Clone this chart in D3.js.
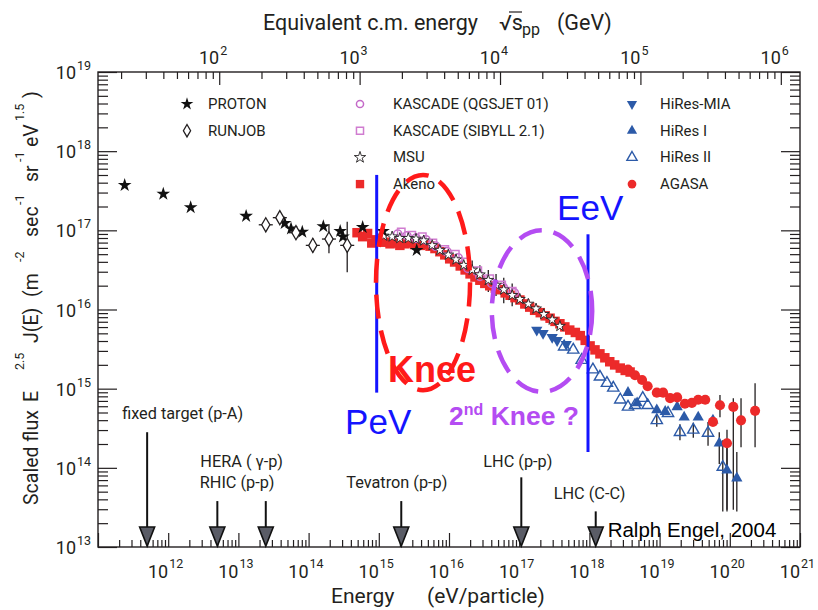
<!DOCTYPE html>
<meta charset="utf-8">
<style>
    body { margin: 0; background: #fff; }
    text { font-family: Roboto, "Open Sans", sans-serif; fill: #231f20; }
    .ax line { stroke: #231f20; stroke-width: 1.2; }
    .ebar { stroke: #231f20; stroke-width: 1.3; fill: none; }
    .note { font-family: "Liberation Sans", Arial, sans-serif; }
</style>
<body>
<div id="chart"></div>
<script src="https://d3js.org/d3.v7.min.js"></script>
<script>

// all values are log10(E / eV), log10(E^2.5 J(E)) ; optional [lo, hi] error bar in log10 flux
var proton = [[11.38,17.57],[11.93,17.46],[12.32,17.29],[13.11,17.18],[13.66,17.09],[13.75,17.02],
    [13.91,16.98],[14.21,17.05],[14.45,16.99],[14.49,16.92],[14.77,17.04],[15.06,16.99],[15.54,16.75]];

var runjob = [[13.39,17.07],[13.59,17.16],[13.82,16.97],[14.06,16.81,16.72,16.90],
    [14.29,16.89,16.71,17.07],[14.55,16.81,16.47,17.11]];

var akeno = [[14.69,16.97],[14.77,16.92],[14.84,16.96],[14.90,16.84],[14.96,16.88],[15.02,16.87],
    [15.09,16.85],[15.16,16.83],[15.23,16.84],[15.30,16.81],[15.37,16.83],[15.44,16.84],[15.51,16.82],
    [15.59,16.81],[15.66,16.82],[15.73,16.80],[15.80,16.77],[15.87,16.73],[15.94,16.69],[16.01,16.64],
    [16.08,16.60],[16.16,16.55],[16.23,16.50],[16.30,16.45],[16.37,16.41],[16.44,16.37],[16.51,16.33],
    [16.58,16.30],[16.66,16.27],[16.73,16.25],[16.80,16.21],[16.87,16.18],[16.94,16.15],[17.01,16.12],
    [17.08,16.07],[17.15,16.03],[17.22,15.99],[17.30,15.96],[17.37,15.92],[17.44,15.89],[17.51,15.85],
    [17.58,15.82],[17.65,15.78],[17.72,15.74],[17.80,15.71],[17.87,15.67],[17.94,15.61],[18.01,15.54],
    [18.08,15.49],[18.15,15.44],[18.22,15.39],[18.29,15.34],[18.36,15.30],[18.44,15.26],[18.51,15.23],
    [18.58,15.21]];

var kascadeQ = [[15.27,16.95],[15.40,16.93],[15.53,16.90],[15.67,16.88],[15.81,16.80],[15.97,16.73],
    [16.13,16.65],[16.27,16.52],[16.44,16.42],[16.61,16.33],[16.77,16.28],[16.93,16.21]];

var kascadeS = [[15.32,16.98],[15.47,16.94],[15.62,16.92],[15.77,16.84],[15.94,16.76],[16.09,16.70],
    [16.24,16.60],[16.41,16.49],[16.58,16.39],[16.75,16.31],[16.90,16.23]];

var msu = [[15.07,16.93],[15.19,16.92],[15.30,16.90],[15.42,16.90],[15.53,16.89],[15.64,16.87],
    [15.76,16.81],[15.87,16.75],[15.99,16.69],[16.10,16.63],[16.21,16.56],[16.33,16.50,16.38,16.62],
    [16.44,16.44,16.32,16.56],[16.56,16.37,16.22,16.50],[16.67,16.31,16.17,16.45],[16.78,16.25,16.08,16.40],
    [16.90,16.18,16.04,16.33],[17.01,16.13],[17.13,16.07],[17.24,16.01],[17.35,15.94],[17.47,15.87],[17.58,15.79]];

var hiresMia = [[17.25,15.74],[17.34,15.70],[17.47,15.65],[17.54,15.61],[17.67,15.56]];

var hires1 = [[18.55,14.95],[18.68,14.82],[18.96,14.73],[19.08,14.71],[19.25,14.77],[19.35,14.64],
    [19.55,14.64],[19.76,14.60],[19.85,14.31,14.05,14.45],[19.96,13.97,13.45,14.35],[20.10,13.87,13.45,14.20]];

var hires2 = [[17.64,15.53],[17.77,15.49],[17.89,15.36],[18.05,15.24],[18.15,15.15],[18.25,15.07],
    [18.34,15.01],[18.44,14.86],[18.55,14.77],[18.65,14.79],[18.76,14.88],[18.83,14.79],
    [18.96,14.60,14.52,14.68],[19.12,14.69],[19.29,14.45,14.35,14.55],[19.48,14.48,14.38,14.57],
    [19.69,14.44,14.28,14.58],[19.90,14.01,13.45,14.35]];

var agasa = [[18.55,15.24],[18.65,15.17],[18.75,15.11],[18.83,15.03],[18.96,14.95],[19.05,14.95],
    [19.15,14.88],[19.25,14.89],[19.36,14.81],[19.46,14.82],[19.55,14.86],[19.65,14.86],[19.76,14.58],
    [19.86,14.79,14.64,14.92],[19.96,14.31,13.47,14.48],[20.05,14.77,13.47,14.88],
    [20.16,14.60,14.26,14.88],[20.36,14.72,14.26,15.07]];

// accelerators: name, log10 E, log10 flux at top of arrow
var accelNames = ["fixed target (p-A)", "HERA (  \u03b3-p)", "RHIC (p-p)", "Tevatron (p-p)", "LHC (p-p)", "LHC (C-C)"];
var accelE = [11.70, 12.70, 13.39, 15.32, 17.03, 18.09];
var accelTop = [14.45, 13.58, 13.58, 13.58, 13.88, 13.45];

var legendNames = ["PROTON", "RUNJOB", "KASCADE (QGSJET 01)", "KASCADE (SIBYLL 2.1)", "MSU", "Akeno",
    "HiRes-MIA", "HiRes I", "HiRes II", "AGASA"];

var xTicks = d3.range(11, 22);
var yTicks = d3.range(13, 20);
var sTicks = d3.range(2, 7);

var red = "#ec2a2a", blue = "#2c5aa8", purple = "#c46ac8", dark = "#231f20";

var svg = d3.select("#chart").append("svg").attr("width", 818).attr("height", 610);

var x = d3.scaleLog().domain([1e11, 1e21]).range([98, 800]);
var y = d3.scaleLog().domain([1e13, 1e19]).range([547, 72]);
var mp = 0.938; // GeV
var xs = d3.scaleLog().domain([Math.sqrt(2 * mp * 1e2), Math.sqrt(2 * mp * 1e12)]).range([98, 800]);

function px(e) { return x(Math.pow(10, e)); }
function py(f) { return y(Math.pow(10, f)); }

function minors(lo, hi, dom) {
    var out = [];
    d3.range(lo, hi).forEach(function(p) {
        d3.range(2, 10).forEach(function(k) { out.push(k * Math.pow(10, p)); });
    });
    return out.filter(function(v) { return v > dom[0] && v < dom[1]; });
}
function pw(p) { return Math.pow(10, p); }

function axis(gen, scale, vals, size, tx, ty) {
    svg.append("g").attr("class", "ax")
        .attr("transform", "translate(" + tx + "," + ty + ")")
        .call(gen(scale).tickValues(vals).tickSize(size).tickFormat(""))
        .call(function(g) { g.select(".domain").remove(); });
}

// ticks
axis(d3.axisRight, y, yTicks.map(pw), 19, 98, 0);
axis(d3.axisRight, y, minors(13, 19, y.domain()), 10, 98, 0);
axis(d3.axisLeft, y, yTicks.map(pw), 19, 800, 0);
axis(d3.axisLeft, y, minors(13, 19, y.domain()), 10, 800, 0);
axis(d3.axisTop, x, xTicks.map(pw), 14, 0, 547);
axis(d3.axisTop, x, minors(11, 21, x.domain()), 7, 0, 547);
axis(d3.axisBottom, xs, sTicks.map(pw), 13, 0, 72);
axis(d3.axisBottom, xs, minors(1, 7, xs.domain()), 7, 0, 72);

svg.append("rect").attr("x", 98).attr("y", 72).attr("width", 702).attr("height", 475)
    .attr("fill", "none").attr("stroke", dark).attr("stroke-width", 1.4);

// tick labels
function powLabel(xx, yy, exp, sup) {
    svg.append("text").attr("x", xx).attr("y", yy).attr("text-anchor", "end")
        .style("font-size", "18px").text("10");
    svg.append("text").attr("x", xx + 1).attr("y", yy + sup).style("font-size", "12.5px").text(exp);
}
yTicks.forEach(function(p) { powLabel(76, y(pw(p)) + 7, p, -9); });
xTicks.filter(function(p) { return p > 11; }).forEach(function(p) { powLabel(x(pw(p)), 578, p, -10); });
sTicks.forEach(function(p) { powLabel(xs(pw(p)), 64, p, -9); });

// axis titles
svg.append("text").attr("x", 263).attr("y", 30).style("font-size", "21.5px").text("Equivalent c.m. energy");
svg.append("text").attr("x", 499).attr("y", 30).style("font-size", "21.5px").text("\u221as");
svg.append("line").attr("x1", 509).attr("x2", 522).attr("y1", 12).attr("y2", 12)
    .attr("stroke", dark).attr("stroke-width", 1.2);
svg.append("text").attr("x", 522).attr("y", 35).style("font-size", "16px").text("pp");
svg.append("text").attr("x", 557).attr("y", 30).style("font-size", "21.5px").text("(GeV)");

svg.append("text").attr("x", 331).attr("y", 603).style("font-size", "21px").text("Energy");
svg.append("text").attr("x", 427).attr("y", 603).style("font-size", "21px").text("(eV/particle)");

var yt = svg.append("g").attr("transform", "translate(38,505) rotate(-90)");
[["Scaled flux", 0, 0], ["E", 103, 0], ["2.5", 135, 1], ["J(E)", 162, 0], ["(m", 208, 0], ["-2", 243, 1],
 ["sec", 268, 0], ["-1", 300, 1], ["sr", 323, 0], ["-1", 343, 1], ["eV", 358, 0], ["1.5", 384, 1], [")", 407, 0]]
    .forEach(function(t) {
        yt.append("text").attr("x", t[1]).attr("y", t[2] ? -14 : 0)
            .style("font-size", t[2] ? "12.5px" : "19.5px").text(t[0]);
    });

// symbols
var sym = {
    star: d3.symbol().type(d3.symbolStar),
    diamond: d3.symbol().type(d3.symbolDiamond).size(58),
    circle: d3.symbol().type(d3.symbolCircle),
    square: d3.symbol().type(d3.symbolSquare),
    tri: d3.symbol().type(d3.symbolTriangle).size(55)
};

function errBars(data, stroke) {
    svg.append("g").selectAll("line").data(data.filter(function(d) { return d.length > 2; }))
        .join("line").attr("class", "ebar")
        .attr("x1", function(d) { return px(d[0]); }).attr("x2", function(d) { return px(d[0]); })
        .attr("y1", function(d) { return py(d[2]); }).attr("y2", function(d) { return py(d[3]); })
        .style("stroke", stroke || dark);
}

function points(data, path, fill, stroke, sw, rot) {
    svg.append("g").selectAll("path").data(data).join("path")
        .attr("d", path)
        .attr("transform", function(d) {
            return "translate(" + px(d[0]) + "," + py(d[1]) + ")" + (rot ? " rotate(180)" : "");
        })
        .attr("fill", fill).attr("stroke", stroke).attr("stroke-width", sw);
}

errBars(msu);
errBars(hires1);
errBars(hires2);
errBars(agasa);
errBars(runjob);

points(akeno, sym.square.size(90)(), red, "none", 0);
points(kascadeQ, sym.circle.size(55)(), "none", purple, 1.5);
points(kascadeS, sym.square.size(55)(), "none", "#d07cd0", 1.5);
points(msu, sym.star.size(36)(), "#fff", dark, 0.9);
points(hiresMia, sym.tri(), blue, "none", 0, true);
points(hires2, sym.tri(), "none", blue, 1.4);
points(hires1, sym.tri(), blue, "none", 0);
points(agasa, sym.circle.size(80)(), red, "none", 0);
points(proton, sym.star.size(58)(), "#111", "none", 0);

// runjob horizontal bars
svg.append("g").selectAll("line").data(runjob).join("line").attr("class", "ebar")
    .attr("x1", function(d) { return px(d[0] - 0.1); }).attr("x2", function(d) { return px(d[0] + 0.1); })
    .attr("y1", function(d) { return py(d[1]); }).attr("y2", function(d) { return py(d[1]); });
points(runjob, sym.diamond(), "#fff", dark, 1.3);

// legend
var legSym = [
    [sym.star.size(50)(), "#111", "none", 0, 0],
    [sym.diamond.size(45)(), "#fff", dark, 1.3, 0],
    [sym.circle.size(40)(), "none", purple, 1.5, 0],
    [sym.square.size(50)(), "none", "#d07cd0", 1.5, 0],
    [sym.star.size(40)(), "#fff", dark, 0.9, 0],
    [sym.square.size(70)(), red, "none", 0, 0],
    [sym.tri.size(45)(), blue, "none", 0, 1],
    [sym.tri.size(45)(), blue, "none", 0, 0],
    [sym.tri.size(45)(), "none", blue, 1.4, 0],
    [sym.circle.size(60)(), red, "none", 0, 0]
];
var legPos = [[187, 208, 0], [187, 208, 1], [360, 393, 0], [360, 393, 1], [360, 393, 2], [360, 393, 3],
    [632, 660, 0], [632, 660, 1], [632, 660, 2], [632, 660, 3]];
legendNames.forEach(function(n, i) {
    var p = legPos[i], s = legSym[i], yy = 109 + p[2] * 26.7;
    svg.append("path").attr("d", s[0])
        .attr("transform", "translate(" + p[0] + "," + (yy - 5) + ")" + (s[4] ? " rotate(180)" : ""))
        .attr("fill", s[1]).attr("stroke", s[2]).attr("stroke-width", s[3]);
    svg.append("text").attr("x", p[1]).attr("y", yy).style("font-size", "15px").text(n);
});

// accelerator arrows
var arrowTip = 546;
accelE.forEach(function(e, i) {
    var xx = px(e);
    svg.append("line").attr("x1", xx).attr("x2", xx).attr("y1", py(accelTop[i])).attr("y2", arrowTip - 16)
        .attr("stroke", "#111").attr("stroke-width", 2);
    svg.append("path")
        .attr("d", "M" + (xx - 7.5) + "," + (arrowTip - 19) + "L" + (xx + 7.5) + "," + (arrowTip - 19) + "L" + xx + "," + arrowTip + "Z")
        .attr("fill", "#5a5c66").attr("stroke", "#111").attr("stroke-width", 1.6);
});
var accelLab = [[0, -25, 419], [1, -17, 467], [2, -66, 488], [3, -55, 488], [4, -38, 467], [5, -42, 499]];
accelLab.forEach(function(a) {
    svg.append("text").attr("x", px(accelE[a[0]]) + a[1]).attr("y", a[2])
        .style("font-size", "16.3px").text(accelNames[a[0]]);
});

// annotations
var pevE = 14.97, eevE = 17.98;
svg.append("line").attr("x1", px(pevE)).attr("x2", px(pevE)).attr("y1", py(17.70)).attr("y2", py(14.95))
    .attr("stroke", "#1414ff").attr("stroke-width", 3);
svg.append("line").attr("x1", px(eevE)).attr("x2", px(eevE)).attr("y1", py(16.95)).attr("y2", py(14.20))
    .attr("stroke", "#1414ff").attr("stroke-width", 3);

function ellipse(e0, e1, f0, f1, col) {
    svg.append("ellipse")
        .attr("cx", (px(e0) + px(e1)) / 2).attr("cy", (py(f0) + py(f1)) / 2)
        .attr("rx", (px(e1) - px(e0)) / 2).attr("ry", (py(f0) - py(f1)) / 2)
        .attr("fill", "none").attr("stroke", col).attr("stroke-width", 4.5)
        .attr("stroke-dasharray", "24,12");
}
ellipse(14.96, 16.30, 14.98, 17.70, "#ff1a1a");
ellipse(16.61, 18.04, 14.96, 17.00, "#b44cf2");

svg.append("text").attr("class", "note").attr("x", px(14.52)).attr("y", 434)
    .style("font-size", "35px").style("fill", "#1414ff").text("PeV");
svg.append("text").attr("class", "note").attr("x", px(17.54)).attr("y", 220)
    .style("font-size", "35px").style("fill", "#1414ff").text("EeV");
svg.append("text").attr("class", "note").attr("x", px(15.13)).attr("y", 382)
    .style("font-size", "36px").style("font-weight", "bold").style("fill", "#ff1a1a").text("Knee");
var k2 = svg.append("text").attr("class", "note").attr("x", px(16.00)).attr("y", 425)
    .style("font-size", "26.5px").style("font-weight", "bold").style("fill", "#b44cf2");
k2.append("tspan").text("2");
k2.append("tspan").attr("dy", -10).style("font-size", "16px").text("nd");
k2.append("tspan").attr("dy", 10).text(" Knee ?");

svg.append("text").attr("class", "note").attr("x", px(18.26)).attr("y", 537)
    .style("font-size", "20.5px").style("fill", "#000").text("Ralph Engel, 2004");

</script>
</body>
